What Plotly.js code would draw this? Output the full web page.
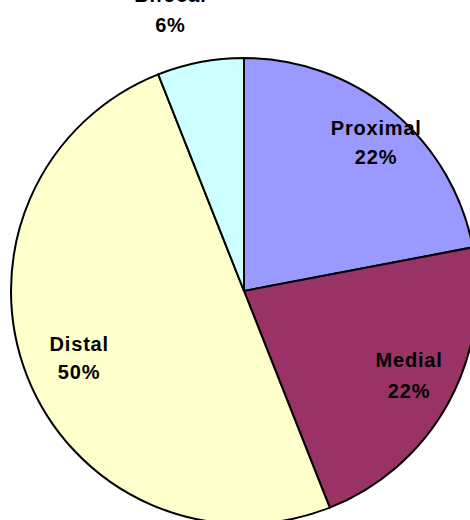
<!DOCTYPE html>
<html>
<head>
<meta charset="utf-8">
<script src="https://cdn.plot.ly/plotly-3.0.1.min.js"></script>
<style>
html, body { margin:0; padding:0; overflow:hidden; background:#fff; width:470px; height:520px; }
#chart { width:490px; height:540px; }
#chart .annotation-text { letter-spacing: 0.8px; }
</style>
</head>
<body>
<div id="chart"></div>
<script>
// Data
var categories = ['Proximal', 'Medial', 'Distal', 'Bifocal'];
var values = [22, 22, 50, 6];
var colors = ['#9999FF', '#993366', '#FFFFCC', '#CCFFFF'];

// Label placement (pixel centres of name line and percent line)
var labelPos = [
  {x: 376, y1: 128, y2: 157},
  {x: 409, y1: 360, y2: 391},
  {x: 79,  y1: 344, y2: 372},
  {x: 170, y1: -5,  y2: 25}
];

var W = 490, H = 540;
var total = values.reduce(function(a, b) { return a + b; }, 0);

var annotations = [];
categories.forEach(function(c, i) {
  var pct = Math.round(values[i] / total * 100) + '%';
  var p = labelPos[i];
  [[c, p.y1], [pct, p.y2]].forEach(function(t) {
    annotations.push({
      text: t[0], showarrow: false,
      xref: 'paper', yref: 'paper',
      x: p.x / W, y: 1 - t[1] / H,
      xanchor: 'center', yanchor: 'middle',
      font: {family: 'Liberation Sans, Arial, sans-serif', size: 20, color: '#000', weight: 'bold'}
    });
  });
});

var trace = {
  type: 'pie',
  labels: categories,
  values: values,
  sort: false,
  direction: 'clockwise',
  rotation: 0,
  textinfo: 'none',
  hoverinfo: 'label+percent',
  marker: {colors: colors, line: {color: '#000', width: 2}},
  domain: {x: [11 / W, 477 / W], y: [1 - 524 / H, 1 - 58 / H]},
  showlegend: false
};

var layout = {
  width: W, height: H,
  margin: {l: 0, r: 0, t: 0, b: 0},
  paper_bgcolor: '#fff',
  showlegend: false,
  annotations: annotations
};

Plotly.newPlot('chart', [trace], layout, {displayModeBar: false, staticPlot: true});
</script>
</body>
</html>
